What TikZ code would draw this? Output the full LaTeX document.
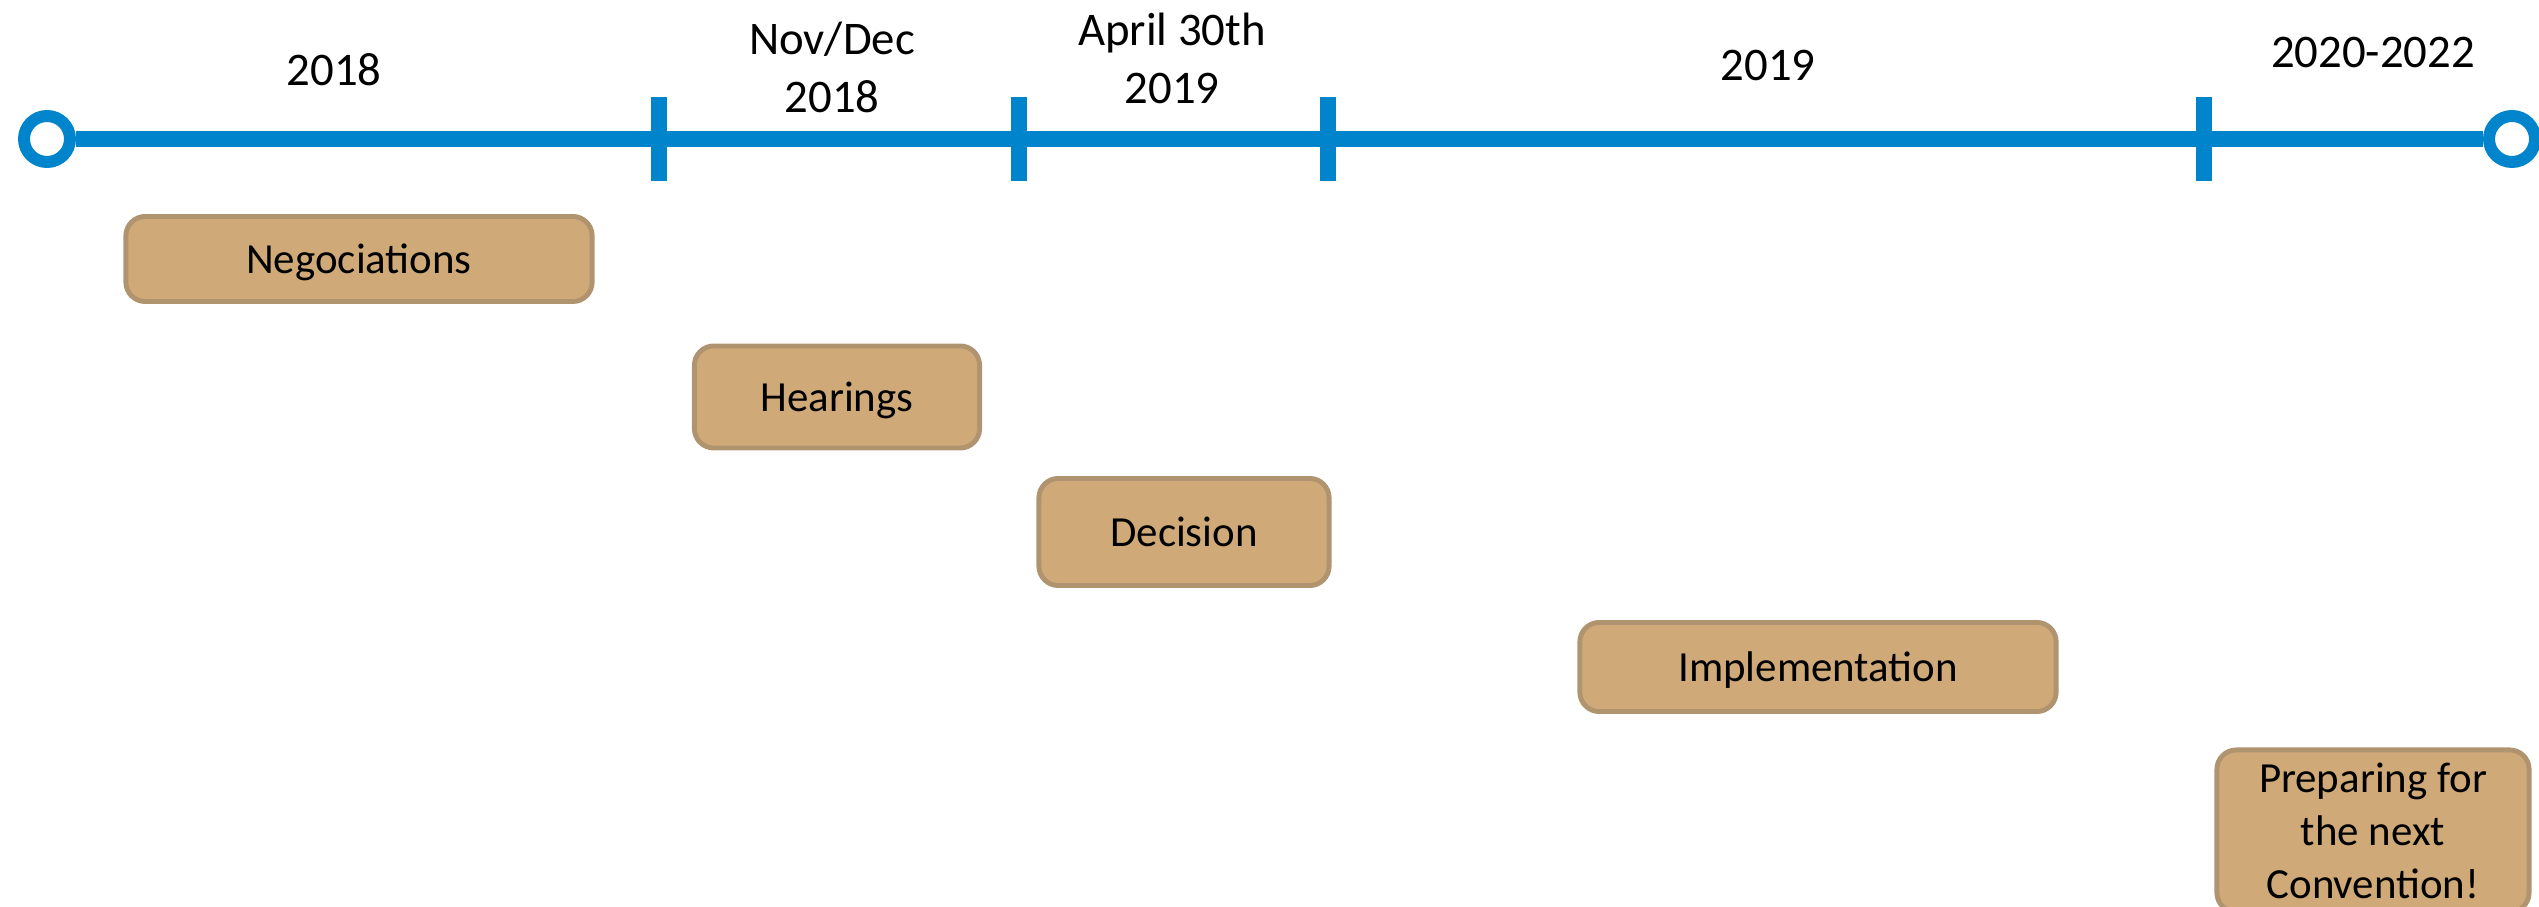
\documentclass[tikz,border=0pt]{standalone}
\usepackage{fontspec}
\setmainfont{Carlito}
\definecolor{lineblue}{RGB}{0,132,204}
\definecolor{boxfill}{RGB}{207,170,120}
\definecolor{boxedge}{RGB}{176,148,112}
\tikzset{
    endpoint/.style={circle, draw=lineblue, fill=white, line width=3.4pt, minimum size=0.46cm, inner sep=0pt},
    tickline/.style={lineblue, line width=4.4pt},
    period/.style={align=center, font=\fontsize{13.3}{16.5}\selectfont},
    phase/.style={draw=boxedge, fill=boxfill, line width=1.4pt, rounded corners=5.5pt,
        align=center, inner sep=0pt, font=\fontsize{12.2}{15}\selectfont},
    oneline/.style={phase, text depth=0pt}
}
\begin{document}
\begin{tikzpicture}[x=0.01cm, y=-0.01cm]
    \useasboundingbox (0,0) rectangle (2539,907);

    % Draw the time line
    \node[endpoint] (start) at (47,139) {};
    \node[endpoint] (stop) at (2512,139) {};
    \draw[lineblue, line width=4.8pt] (start) -- (stop);
    \foreach \x in {659,1019,1328,2204}
        \draw[tickline] (\x,97) -- (\x,181);

    % Periods above the line
    \node[period] (p2018) at (334,70) {2018};
    \node[period] (pnov) at (832,67) {Nov/Dec\\2018};
    \node[period] (papr) at (1172,58) {April 30th\\2019};
    \node[period] (p2019) at (1768,65) {2019};
    \node[period] (pnext) at (2373,52) {2020-2022};

    % Phases below the line
    \node[oneline, minimum width=4.66cm, minimum height=0.85cm] (nego) at (359,259) {Negociations};
    \node[oneline, minimum width=2.85cm, minimum height=1.02cm] (hear) at (837,397) {Hearings};
    \node[oneline, minimum width=2.90cm, minimum height=1.07cm] (deci) at (1184,532) {Decision};
    \node[oneline, minimum width=4.76cm, minimum height=0.89cm] (impl) at (1818,667) {Implementation};
    \node[phase, minimum width=3.12cm, minimum height=1.62cm] (prep) at (2373,831) {Preparing for\\the next\\Convention!};

\end{tikzpicture}
\end{document}
